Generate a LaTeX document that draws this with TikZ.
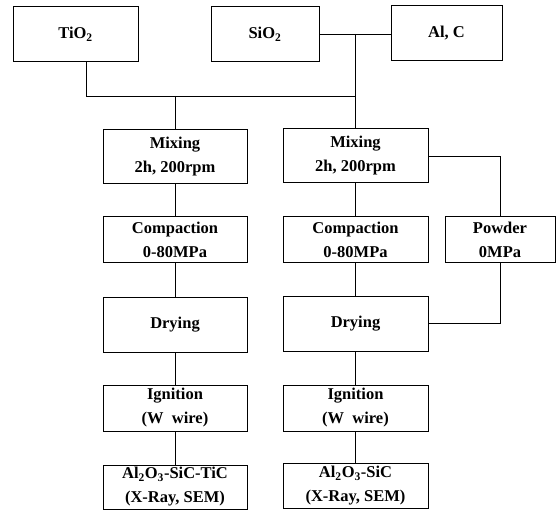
\documentclass[tikz,border=0pt]{standalone}
\usepackage{fontspec}
\setmainfont{Liberation Serif}
\begin{document}
\begin{tikzpicture}[x=1pt,y=-1pt,
  box/.style={draw, line width=1pt, inner sep=0pt, align=center,
    font=\fontsize{16.5}{24}\selectfont\bfseries},
  link/.style={draw, line width=0.9pt}]
\useasboundingbox (0,0) rectangle (556,510);
% top row
\node[box, minimum width=125pt, minimum height=55pt] (tio2) at (75.5,34.5) {TiO\textsubscript{2}};
\node[box, minimum width=108pt, minimum height=55pt] (sio2) at (265,34.5) {SiO\textsubscript{2}};
\node[box, minimum width=111pt, minimum height=55pt] (alc) at (446.5,33.5) {Al, C};
% column 1
\node[box, minimum width=144pt, minimum height=54pt] (m1) at (175,157) {Mixing\\2h, 200rpm};
\node[box, minimum width=144pt, minimum height=46pt] (c1) at (175,240) {Compaction\\0-80MPa};
\node[box, minimum width=144pt, minimum height=55pt] (d1) at (175,324.5) {Drying};
\node[box, minimum width=144pt, minimum height=46pt] (i1) at (175,408) {Ignition\\(W\ \ wire)};
\node[box, minimum width=144pt, minimum height=44pt] (f1) at (175,487) {Al\textsubscript{2}O\textsubscript{3}-SiC-TiC\\(X-Ray, SEM)};
% column 2
\node[box, minimum width=145pt, minimum height=54pt] (m2) at (355.5,156) {Mixing\\2h, 200rpm};
\node[box, minimum width=145pt, minimum height=46pt] (c2) at (355.5,240) {Compaction\\0-80MPa};
\node[box, minimum width=145pt, minimum height=55pt] (d2) at (355.5,323.5) {Drying};
\node[box, minimum width=145pt, minimum height=46pt] (i2) at (355.5,408) {Ignition\\(W\ \ wire)};
\node[box, minimum width=145pt, minimum height=45pt] (f2) at (355.5,486) {Al\textsubscript{2}O\textsubscript{3}-SiC\\(X-Ray, SEM)};
% powder
\node[box, minimum width=110pt, minimum height=46pt] (pw) at (500,240) {Powder\\0MPa};
% junctions
\coordinate (j1) at (355.5,34);
\coordinate (j2) at (355.5,96);
\coordinate (j3) at (175,96);
\coordinate (t1) at (86,62);
% connectors
\draw[link] (sio2.east |- j1) -- (alc.west |- j1);
\draw[link] (j1) -- (m2.north);
\draw[link] (tio2.south -| t1) |- (j2);
\draw[link] (j3) -- (m1.north);
\draw[link] (m1) -- (c1);
\draw[link] (c1) -- (d1);
\draw[link] (d1) -- (i1);
\draw[link] (i1) -- (f1);
\draw[link] (m2) -- (c2);
\draw[link] (c2) -- (d2);
\draw[link] (d2) -- (i2);
\draw[link] (i2) -- (f2);
\draw[link] (m2.east) -| (pw.north);
\draw[link] (pw.south) |- (d2.east);
\end{tikzpicture}
\end{document}
